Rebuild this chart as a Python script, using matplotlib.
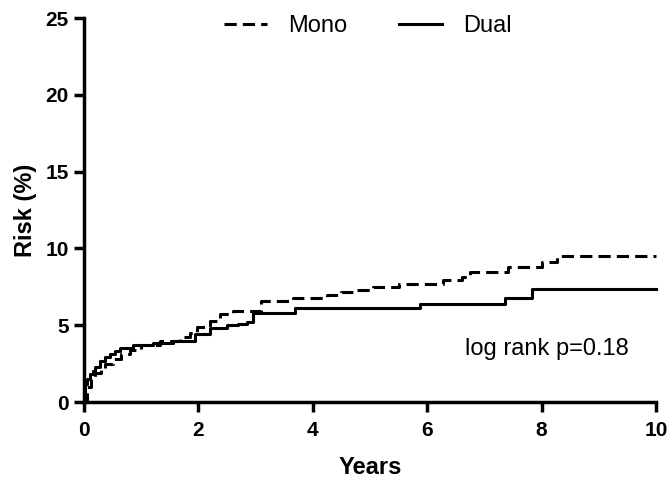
import matplotlib
matplotlib.use("Agg")
import matplotlib.pyplot as plt

plt.rcParams['font.family'] = ['Liberation Sans', 'DejaVu Sans']

# cumulative risk (%), step after each time point
mono_years = [0, 0.05, 0.12, 0.2, 0.3, 0.37, 0.5, 0.65, 0.8, 1.0, 1.33, 1.68, 1.85,
              1.98, 2.2, 2.38, 2.6, 3.1, 3.66, 4.25, 4.5, 4.77, 5.05, 5.5, 6.1, 6.28,
              6.6, 6.75, 7.41, 8.0, 8.27, 10]
mono_risk = [0, 1.0, 1.5, 1.9, 2.2, 2.5, 2.8, 3.1, 3.4, 3.7, 4.0, 4.2, 4.5,
             4.9, 5.3, 5.7, 5.9, 6.6, 6.8, 6.95, 7.15, 7.3, 7.5, 7.65, 7.7, 7.95,
             8.15, 8.45, 8.8, 9.1, 9.5, 9.5]

dual_years = [0, 0.02, 0.06, 0.1, 0.15, 0.2, 0.28, 0.36, 0.45, 0.54, 0.63, 0.86, 1.2,
              1.55, 1.94, 2.2, 2.5, 2.7, 2.85, 2.96, 3.69, 5.87, 7.36, 7.83, 10]
dual_risk = [0, 1.2, 1.5, 1.8, 2.0, 2.3, 2.7, 2.9, 3.1, 3.3, 3.5, 3.7, 3.85,
             4.0, 4.4, 4.8, 5.0, 5.1, 5.2, 5.8, 6.1, 6.4, 6.8, 7.35, 7.35]

x_ticks = [0, 2, 4, 6, 8, 10]
y_ticks = [0, 5, 10, 15, 20, 25]
annotation = "log rank p=0.18"

fig = plt.figure(figsize=(6.71, 4.83), dpi=100)
ax = fig.add_axes([84/671, 81/483, 572/671, 384/483])

ax.plot(mono_years, mono_risk, drawstyle='steps-post', color='black', lw=2.2,
        linestyle=(0, (4, 2)), label='Mono', clip_on=False)
ax.plot(dual_years, dual_risk, drawstyle='steps-post', color='black', lw=2.2,
        label='Dual', clip_on=False)

ax.set_xlim(0, 10)
ax.set_ylim(0, 25)
ax.set_xticks(x_ticks)
ax.set_yticks(y_ticks)

for s in ['top', 'right']:
    ax.spines[s].set_visible(False)
for s in ['left', 'bottom']:
    ax.spines[s].set_linewidth(2.5)

ax.tick_params(width=2.5, length=7, labelsize=15, pad=4)
ax.tick_params(axis='x', pad=7)
for lab in ax.get_xticklabels() + ax.get_yticklabels():
    lab.set_fontweight('bold')

ax.set_xlabel('Years', fontsize=17, fontweight='bold', labelpad=11)
ax.set_ylabel('Risk (%)', fontsize=17, fontweight='bold', labelpad=6)

ax.text(6.66, 3.06, annotation, fontsize=17, ha='left', va='baseline')

fig.legend(loc='center', bbox_to_anchor=(368/671, 1 - 26/483), ncol=2,
           frameon=False, fontsize=17, handlelength=1.8, handletextpad=0.9,
           columnspacing=2.2, borderpad=0)

fig.savefig('out.png', dpi=100)
